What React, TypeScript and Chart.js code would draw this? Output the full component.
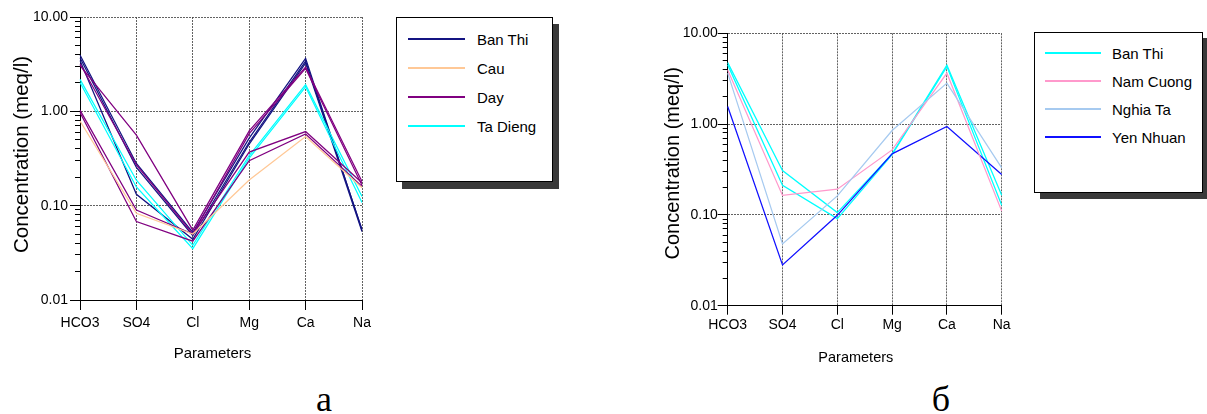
import React, { useEffect, useRef } from 'react';
import { Chart, registerables } from 'chart.js';

Chart.register(...registerables);

const FONT = '"Liberation Sans", Arial, Helvetica, sans-serif';
Chart.defaults.font.family = FONT;

// ---------- shared axis data ----------
const CATEGORIES = ['HCO3', 'SO4', 'Cl', 'Mg', 'Ca', 'Na'];
const Y_MAJOR_VALUES = [0.01, 0.1, 1, 10];
const Y_MAJOR_LABELS = ['0.01', '0.10', '1.00', '10.00'];
const Y_MINOR_MULTIPLIERS = [2, 3, 4, 5, 6, 7, 8, 9];
const Y_TITLE = 'Concentration (meq/l)';
const X_TITLE = 'Parameters';

// ---------- chart а ----------
const A_SITES = ['Ban Thi', 'Cau', 'Day', 'Ta Dieng'];
const A_COLORS = ['#141482', '#ffc896', '#800080', '#00ffff'];
const A_BAN_THI_1 = [3.95, 0.28, 0.052, 0.52, 3.65, 0.055];
const A_BAN_THI_2 = [3.7, 0.255, 0.048, 0.47, 3.4, 0.056];
const A_BAN_THI_3 = [3.45, 0.132, 0.044, 0.45, 3.25, 0.053];
const A_CAU_1 = [0.79, 0.083, 0.05, 0.187, 0.54, 0.155];
const A_DAY_1 = [3.07, 0.56, 0.055, 0.62, 2.95, 0.18];
const A_DAY_2 = [3.2, 0.27, 0.05, 0.58, 2.85, 0.165];
const A_DAY_3 = [1.03, 0.09, 0.05, 0.37, 0.61, 0.175];
const A_DAY_4 = [0.97, 0.068, 0.042, 0.3, 0.575, 0.16];
const A_TA_DIENG_1 = [2.18, 0.186, 0.038, 0.34, 1.92, 0.125];
const A_TA_DIENG_2 = [2.02, 0.158, 0.035, 0.32, 1.82, 0.108];

// ---------- chart б ----------
const B_SITES = ['Ban Thi', 'Nam Cuong', 'Nghia Ta', 'Yen Nhuan'];
const B_COLORS = ['#00ffff', '#ff99cc', '#a6caf0', '#1010ff'];
const B_BAN_THI_1 = [4.75, 0.308, 0.106, 0.47, 4.45, 0.165];
const B_BAN_THI_2 = [4.49, 0.212, 0.091, 0.46, 4.3, 0.128];
const B_NAM_CUONG_1 = [3.95, 0.164, 0.192, 0.52, 3.64, 0.11];
const B_NGHIA_TA_1 = [3.64, 0.0478, 0.162, 0.85, 2.83, 0.33];
const B_YEN_NHUAN_1 = [1.56, 0.0281, 0.099, 0.47, 0.94, 0.278];

type Series = { site: number; values: number[] };

const A_SERIES: Series[] = [
  { site: 1, values: A_CAU_1 },
  { site: 2, values: A_DAY_3 },
  { site: 2, values: A_DAY_4 },
  { site: 3, values: A_TA_DIENG_1 },
  { site: 3, values: A_TA_DIENG_2 },
  { site: 2, values: A_DAY_1 },
  { site: 2, values: A_DAY_2 },
  { site: 0, values: A_BAN_THI_3 },
  { site: 0, values: A_BAN_THI_2 },
  { site: 0, values: A_BAN_THI_1 },
];

const B_SERIES: Series[] = [
  { site: 2, values: B_NGHIA_TA_1 },
  { site: 1, values: B_NAM_CUONG_1 },
  { site: 3, values: B_YEN_NHUAN_1 },
  { site: 0, values: B_BAN_THI_2 },
  { site: 0, values: B_BAN_THI_1 },
];

const GRID_COLOR = 'rgba(70,70,70,0.85)';

const ALL_Y_TICKS: number[] = (() => {
  const out: number[] = [];
  for (let i = 0; i < Y_MAJOR_VALUES.length; i++) {
    const d = Y_MAJOR_VALUES[i];
    out.push(d);
    if (i < Y_MAJOR_VALUES.length - 1) Y_MINOR_MULTIPLIERS.forEach((m) => out.push(d * m));
  }
  return out;
})();

const majorIndex = (v: number) =>
  Y_MAJOR_VALUES.findIndex((m) => Math.abs(m - v) < m * 1e-6);

interface TextItem { text: string; x: number; y: number; size: number; rotate?: boolean }

interface ChartSpec {
  left: number; top: number; width: number; height: number;
  yAxisWidth: number; padTop: number; padRight: number; xAxisHeight: number;
  xTickLength: number; xTickPadding: number; yTickPadding: number;
  colors: string[]; series: Series[];
  texts: TextItem[];
}

const alignPx = (p: number) => Math.round(p - 0.5) + 0.5;

function buildConfig(spec: ChartSpec): any {
  const majorTicks = {
    id: 'majorTicks',
    afterDraw(chart: any) {
      const y = chart.scales.y;
      const ctx = chart.ctx;
      ctx.save();
      ctx.strokeStyle = '#000';
      ctx.lineWidth = 1;
      Y_MAJOR_VALUES.forEach((v) => {
        const py = alignPx(y.getPixelForValue(v));
        ctx.beginPath();
        ctx.moveTo(y.right - 10, py);
        ctx.lineTo(y.right - 4, py);
        ctx.stroke();
      });
      ctx.restore();
    },
  };
  const axisTexts = {
    id: 'axisTexts',
    afterDraw(chart: any) {
      const ctx = chart.ctx;
      spec.texts.forEach((t) => {
        ctx.save();
        ctx.fillStyle = '#000';
        ctx.font = `${t.size}px ${FONT}`;
        ctx.textAlign = 'center';
        ctx.textBaseline = 'alphabetic';
        ctx.translate(t.x - spec.left, t.y - spec.top);
        if (t.rotate) ctx.rotate(-Math.PI / 2);
        ctx.fillText(t.text, 0, 0);
        ctx.restore();
      });
    },
  };
  return {
    type: 'line',
    data: {
      labels: CATEGORIES,
      datasets: spec.series.map((s) => ({
        data: s.values,
        borderColor: spec.colors[s.site],
        backgroundColor: spec.colors[s.site],
        borderWidth: 1.25,
        pointRadius: 0,
        tension: 0,
        fill: false,
      })),
    },
    options: {
      animation: false,
      responsive: false,
      events: [],
      layout: { padding: { top: spec.padTop, right: spec.padRight, left: 0, bottom: 0 } },
      plugins: { legend: { display: false }, tooltip: { enabled: false }, title: { display: false } },
      scales: {
        x: {
          type: 'category',
          offset: false,
          grid: {
            color: GRID_COLOR,
            lineWidth: 1,
            tickColor: '#000',
            tickLength: spec.xTickLength,
            tickWidth: 1,
          },
          border: { color: '#000', width: 1, dash: [2, 1] },
          ticks: {
            color: '#000',
            font: { size: 14 },
            padding: spec.xTickPadding,
            autoSkip: false,
            maxRotation: 0,
          },
          afterFit: (s: any) => { s.height = spec.xAxisHeight; },
        },
        y: {
          type: 'logarithmic',
          min: Y_MAJOR_VALUES[0],
          max: Y_MAJOR_VALUES[Y_MAJOR_VALUES.length - 1],
          afterBuildTicks: (s: any) => { s.ticks = ALL_Y_TICKS.map((v) => ({ value: v })); },
          grid: {
            color: (c: any) => (c.tick && majorIndex(c.tick.value) >= 0 ? GRID_COLOR : 'rgba(0,0,0,0)'),
            lineWidth: 1,
            tickColor: '#000',
            tickLength: 5,
            tickWidth: 1,
          },
          border: { color: '#000', width: 1, dash: [2, 1] },
          ticks: {
            color: '#000',
            font: { size: 14 },
            padding: spec.yTickPadding,
            autoSkip: false,
            callback: (value: number) => {
              const i = majorIndex(Number(value));
              return i >= 0 ? Y_MAJOR_LABELS[i] : '';
            },
          },
          afterFit: (s: any) => { s.width = spec.yAxisWidth; },
        },
      },
    },
    plugins: [majorTicks, axisTexts],
  };
}

function LineChart({ spec }: { spec: ChartSpec }) {
  const ref = useRef<HTMLCanvasElement | null>(null);
  useEffect(() => {
    const canvas = ref.current;
    if (!canvas) return;
    const chart = new Chart(canvas, buildConfig(spec));
    return () => chart.destroy();
  }, [spec]);
  return (
    <canvas
      ref={ref}
      width={spec.width}
      height={spec.height}
      style={{ position: 'absolute', left: spec.left, top: spec.top, width: spec.width, height: spec.height }}
    />
  );
}

interface LegendSpec {
  left: number; top: number; width: number; height: number;
  lineX1: number; lineX2: number; textX: number; rows: number[];
  sites: string[]; colors: string[]; shadowX: number; shadowY: number;
}

function Legend({ spec }: { spec: LegendSpec }) {
  return (
    <>
      <div
        style={{
          position: 'absolute', left: spec.left, top: spec.top, width: spec.width, height: spec.height,
          boxSizing: 'border-box', border: '1px solid #000', background: '#fff',
          boxShadow: `${spec.shadowX}px ${spec.shadowY}px 0 #3a3a3a`,
        }}
      />
      {spec.sites.map((name, i) => (
        <React.Fragment key={name}>
          <div
            style={{
              position: 'absolute', left: spec.lineX1, top: Math.round(spec.rows[i] - 0.5),
              width: spec.lineX2 - spec.lineX1, height: 2, background: spec.colors[i],
            }}
          />
          <span
            style={{
              position: 'absolute', left: spec.textX, top: spec.rows[i] - 6.3,
              fontFamily: FONT, fontSize: 15, lineHeight: '15px', color: '#000', whiteSpace: 'nowrap',
            }}
          >
            {name}
          </span>
        </React.Fragment>
      ))}
    </>
  );
}

const SPEC_A: ChartSpec = {
  left: 0, top: 0, width: 390, height: 372,
  yAxisWidth: 80, padTop: 17, padRight: 28, xAxisHeight: 72,
  xTickLength: 10, xTickPadding: 5, yTickPadding: 7,
  colors: A_COLORS, series: A_SERIES,
  texts: [
    { text: Y_TITLE, x: 28.3, y: 154.5, size: 20.5, rotate: true },
    { text: X_TITLE, x: 212.5, y: 358.3, size: 15 },
  ],
};

const SPEC_B: ChartSpec = {
  left: 650, top: 0, width: 372, height: 375,
  yAxisWidth: 77.7, padTop: 33.3, padRight: 20.3, xAxisHeight: 69.3,
  xTickLength: 9, xTickPadding: 2, yTickPadding: 5,
  colors: B_COLORS, series: B_SERIES,
  texts: [
    { text: Y_TITLE, x: 679.3, y: 163.3, size: 20, rotate: true },
    { text: X_TITLE, x: 855.8, y: 362.3, size: 14.5 },
  ],
};

const LEGEND_A: LegendSpec = {
  left: 396, top: 17, width: 157, height: 165,
  lineX1: 408, lineX2: 465, textX: 477, rows: [38.3, 67.7, 96.7, 125.3],
  sites: A_SITES, colors: A_COLORS, shadowX: 6, shadowY: 7,
};

const LEGEND_B: LegendSpec = {
  left: 1034, top: 32, width: 169, height: 161,
  lineX1: 1045, lineX2: 1101, textX: 1112, rows: [52.3, 80.3, 108.3, 136.3],
  sites: B_SITES, colors: B_COLORS, shadowX: 6, shadowY: 6,
};

const CAPTIONS = [
  { text: 'а', x: 324 },
  { text: 'б', x: 941 },
];

export default function App() {
  return (
    <div
      style={{
        position: 'absolute', left: 0, top: 0, width: 1207, height: 414,
        overflow: 'hidden', background: '#fff',
      }}
    >
      <LineChart spec={SPEC_A} />
      <LineChart spec={SPEC_B} />
      <Legend spec={LEGEND_A} />
      <Legend spec={LEGEND_B} />
      {CAPTIONS.map((c) => (
        <span
          key={c.text}
          style={{
            position: 'absolute', left: c.x, top: 381, transform: 'translateX(-50%)',
            fontFamily: '"Liberation Serif", "Times New Roman", serif', fontSize: 36,
            lineHeight: '36px', color: '#000',
          }}
        >
          {c.text}
        </span>
      ))}
    </div>
  );
}
